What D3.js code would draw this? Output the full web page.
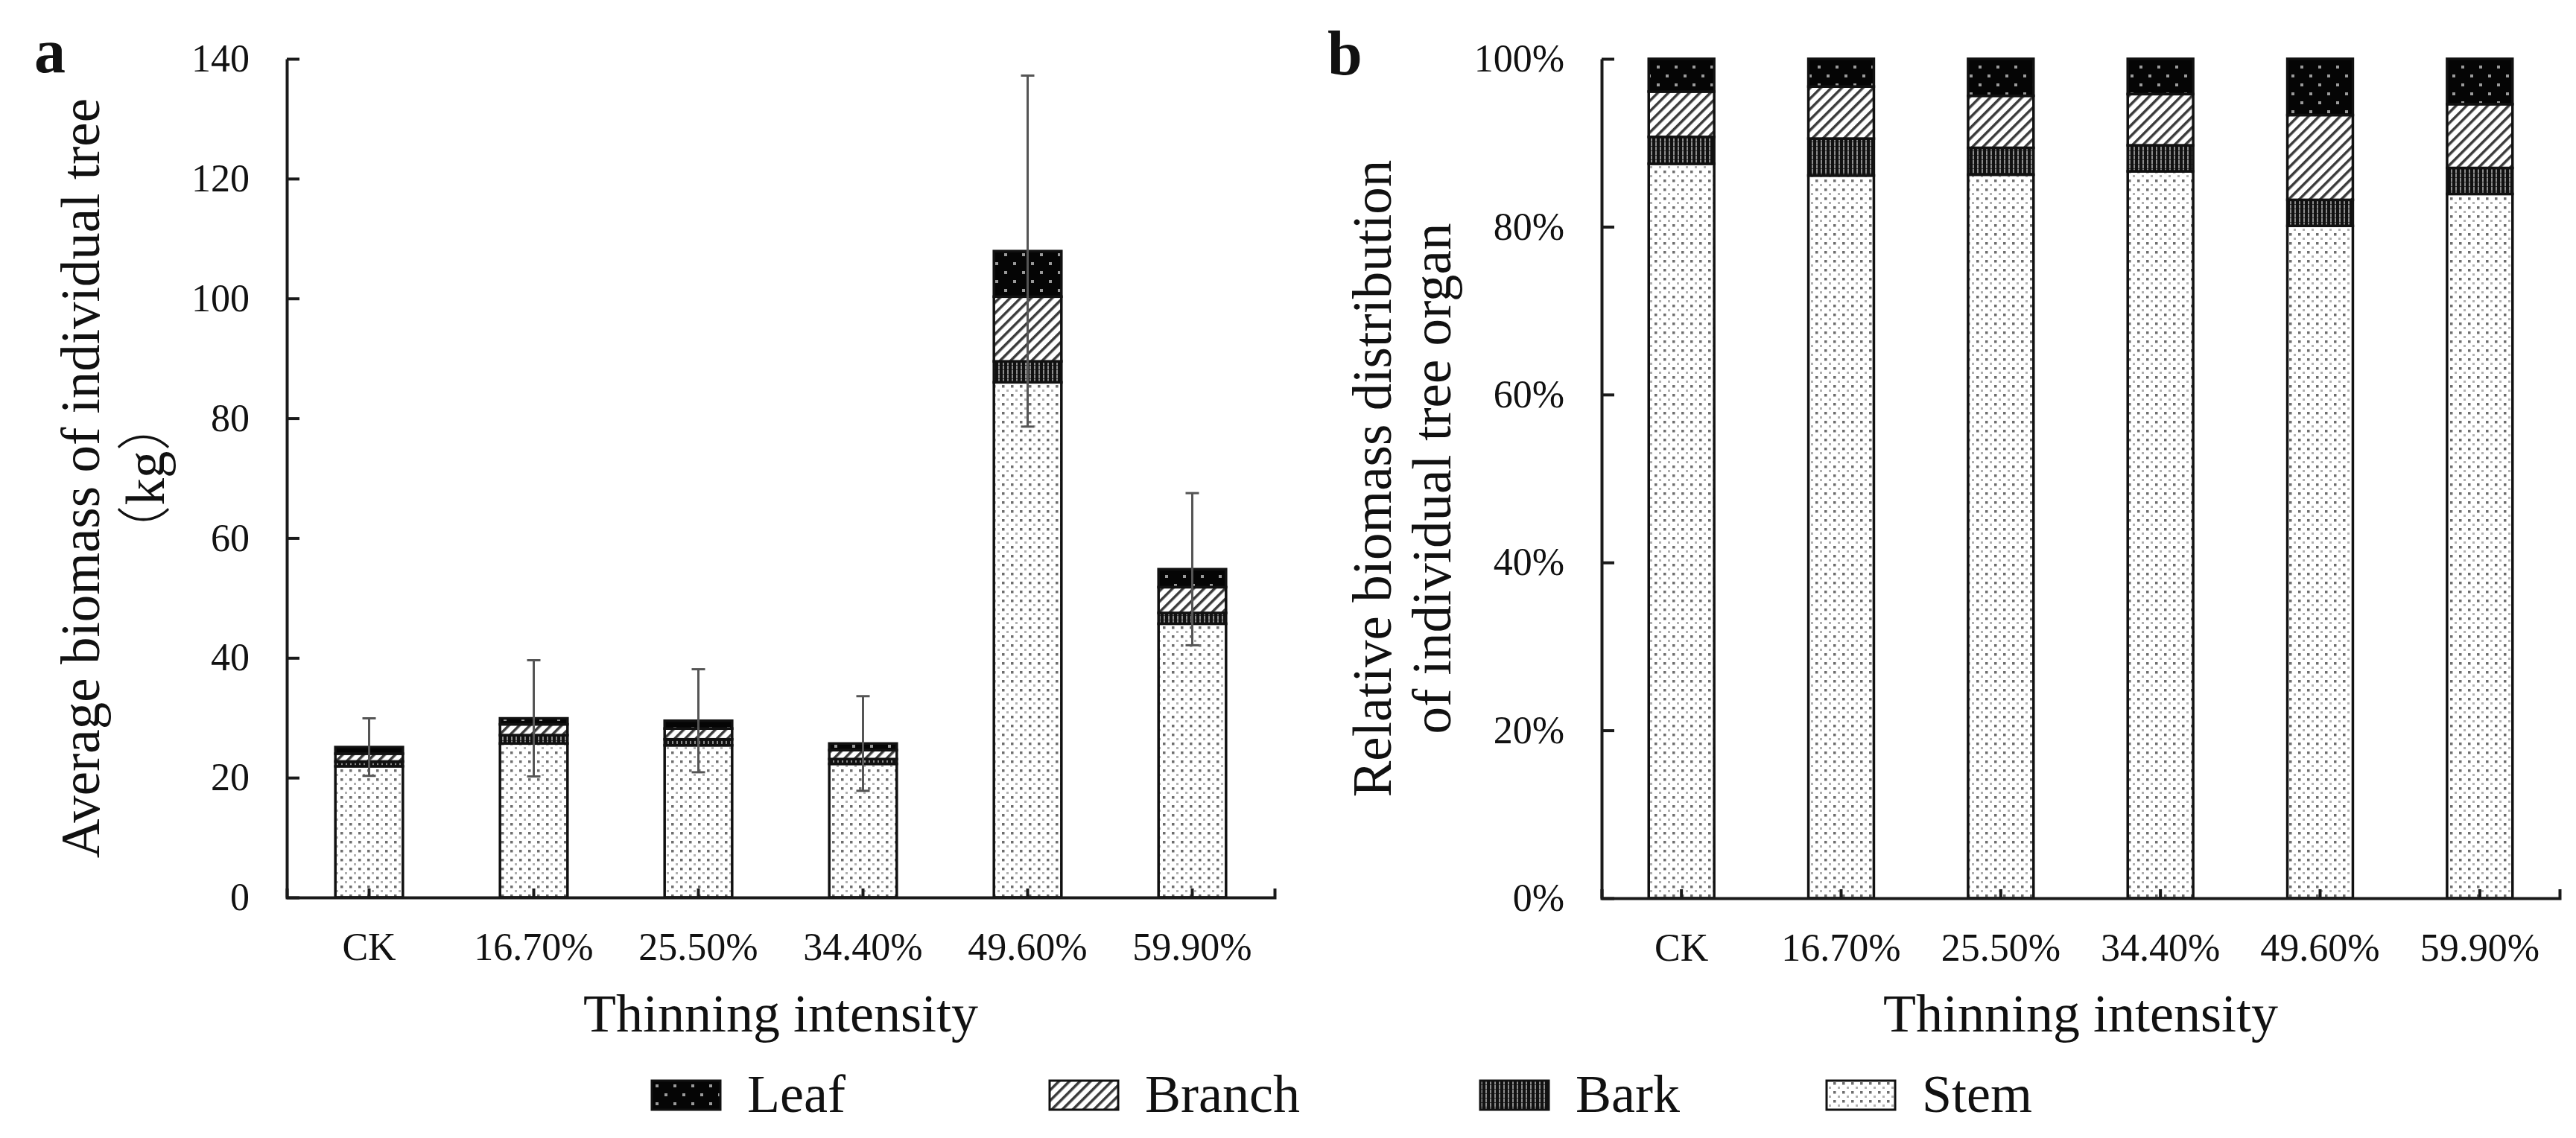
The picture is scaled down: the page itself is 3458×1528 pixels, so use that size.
<!DOCTYPE html>
<html>
<head>
<meta charset="utf-8">
<script src="https://cdn.jsdelivr.net/npm/d3@7"></script>
<style>
  body { margin: 0; background: #fff; }
  text { font-family: "Liberation Serif", "Noto Sans CJK SC", serif; fill: #111; }
</style>
</head>
<body>
<div id="chart"></div>
<script>
const categories = ["CK", "16.70%", "25.50%", "34.40%", "49.60%", "59.90%"];
const organs = ["Leaf", "Branch", "Bark", "Stem"];

// panel a: average biomass per organ (kg)
const stemKg = [21.9, 25.7, 25.4, 22.3, 86.0, 45.7];
const barkKg = [0.8, 1.4, 1.0, 0.8, 3.5, 1.8];
const branchKg = [1.3, 1.8, 1.8, 1.5, 10.8, 4.3];
const leafKg = [1.1, 1.0, 1.3, 1.1, 7.6, 3.0];
const errKg = [4.8, 9.7, 8.6, 7.9, 29.3, 12.7];

// panel b: relative distribution (%)
const stemPct = [87.5, 86.1, 86.2, 86.6, 80.1, 83.9];
const barkPct = [3.2, 4.4, 3.2, 3.1, 3.1, 3.1];
const branchPct = [5.4, 6.2, 6.2, 6.1, 10.1, 7.6];
const leafPct = [3.9, 3.3, 4.4, 4.2, 6.7, 5.4];

const yTicksA = [0, 20, 40, 60, 80, 100, 120, 140];
const yTicksB = [0, 20, 40, 60, 80, 100];

const W = 3458, H = 1528;
const svg = d3.select("#chart").append("svg")
  .attr("width", W).attr("height", H)
  .style("display", "block");

svg.append("rect").attr("width", W).attr("height", H).attr("fill", "#fff");

// fill patterns
const defs = svg.append("defs");

const pStem = defs.append("pattern").attr("id", "p-Stem")
  .attr("patternUnits", "userSpaceOnUse").attr("width", 12).attr("height", 12);
pStem.append("rect").attr("width", 12).attr("height", 12).attr("fill", "#fff");
pStem.append("rect").attr("x", 1).attr("y", 1).attr("width", 3.5).attr("height", 3.5).attr("fill", "#6e6e6e");
pStem.append("rect").attr("x", 7).attr("y", 7).attr("width", 3).attr("height", 3).attr("fill", "#b0b0b0");

const pBark = defs.append("pattern").attr("id", "p-Bark")
  .attr("patternUnits", "userSpaceOnUse").attr("width", 6).attr("height", 6);
pBark.append("rect").attr("width", 6).attr("height", 6).attr("fill", "#111");
pBark.append("rect").attr("x", 2).attr("width", 2).attr("height", 6).attr("fill", "#8c8c8c");
pBark.append("rect").attr("x", 2).attr("y", 4).attr("width", 2).attr("height", 1).attr("fill", "#333");

const pBranch = defs.append("pattern").attr("id", "p-Branch")
  .attr("patternUnits", "userSpaceOnUse").attr("width", 10).attr("height", 10)
  .attr("patternTransform", "rotate(45)");
pBranch.append("rect").attr("width", 10).attr("height", 10).attr("fill", "#fff");
pBranch.append("rect").attr("width", 3.5).attr("height", 10).attr("fill", "#3a3a3a");

const pLeaf = defs.append("pattern").attr("id", "p-Leaf")
  .attr("patternUnits", "userSpaceOnUse").attr("width", 24).attr("height", 24);
pLeaf.append("rect").attr("width", 24).attr("height", 24).attr("fill", "#050505");
pLeaf.append("rect").attr("x", 4).attr("y", 4).attr("width", 4).attr("height", 4).attr("fill", "#9a9a9a");
pLeaf.append("rect").attr("x", 16).attr("y", 16).attr("width", 4).attr("height", 4).attr("fill", "#9a9a9a");

const stackKeys = ["Stem", "Bark", "Branch", "Leaf"];

function drawPanel(opt) {
  const x = d3.scaleBand().domain(categories).range([opt.left, opt.right]).padding(0);
  const y = d3.scaleLinear().domain(opt.domain).range([opt.bottom, opt.top]);
  const g = svg.append("g");

  const rows = categories.map((c, i) => ({
    cat: c, Stem: opt.series.Stem[i], Bark: opt.series.Bark[i],
    Branch: opt.series.Branch[i], Leaf: opt.series.Leaf[i]
  }));
  const stacked = d3.stack().keys(stackKeys)(rows);
  const barW = x.bandwidth() * 0.41;

  g.selectAll("g.layer")
    .data(stacked)
    .join("g")
    .attr("class", "layer")
    .attr("fill", d => `url(#p-${d.key})`)
    .selectAll("rect")
    .data(d => d)
    .join("rect")
    .attr("x", d => x(d.data.cat) + (x.bandwidth() - barW) / 2)
    .attr("y", d => y(d[1]))
    .attr("width", barW)
    .attr("height", d => y(d[0]) - y(d[1]))
    .attr("stroke", "#111")
    .attr("stroke-width", 3.5);

  // axes
  const ax = g.append("g")
    .attr("transform", `translate(${opt.left},0)`)
    .call(d3.axisLeft(y).tickValues(opt.ticks).tickFormat(opt.fmt)
      .tickSizeInner(-17).tickSizeOuter(0).tickPadding(50));
  const bx = g.append("g")
    .attr("transform", `translate(0,${opt.bottom})`)
    .call(d3.axisBottom(x).tickSizeInner(-12).tickSizeOuter(-12).tickPadding(47));

  [ax, bx].forEach(a => {
    a.selectAll("path, line").attr("stroke", "#1a1a1a").attr("stroke-width", 4);
    a.selectAll("text").attr("font-size", 52).attr("fill", "#111")
      .style("font-family", '"Liberation Serif", serif');
  });

  // error bars
  if (opt.err) {
    const eg = g.append("g").attr("stroke", "#555").attr("stroke-width", 3);
    rows.forEach((r, i) => {
      const tot = r.Stem + r.Bark + r.Branch + r.Leaf;
      const cx = x(r.cat) + x.bandwidth() / 2;
      const y1 = y(tot + opt.err[i]), y0 = y(tot - opt.err[i]);
      eg.append("line").attr("x1", cx).attr("x2", cx).attr("y1", y1).attr("y2", y0);
      eg.append("line").attr("x1", cx - 9).attr("x2", cx + 9).attr("y1", y1).attr("y2", y1);
      eg.append("line").attr("x1", cx - 9).attr("x2", cx + 9).attr("y1", y0).attr("y2", y0);
    });
  }

  g.append("text")
    .attr("x", (opt.left + opt.right) / 2).attr("y", 1385)
    .attr("text-anchor", "middle").attr("font-size", 72)
    .text("Thinning intensity");

  opt.yTitle.forEach((t, i) => {
    const tt = g.append("text")
      .attr("transform", `translate(${opt.yTitleX[i]},${(opt.top + opt.bottom) / 2}) rotate(-90)`)
      .attr("text-anchor", "middle").attr("font-size", 73);
    // fullwidth brackets come from the CJK font
    t.split(/([（）])/).filter(s => s).forEach(s => {
      tt.append("tspan")
        .style("font-family", /[（）]/.test(s) ? '"Noto Sans CJK SC"' : '"Liberation Serif", serif')
        .attr("font-weight", /[（）]/.test(s) ? 300 : null)
        .text(s);
    });
  });

  g.append("text")
    .attr("x", opt.tag[0]).attr("y", opt.tag[1])
    .attr("font-size", 84).attr("font-weight", "bold")
    .text(opt.tag[2]);
}

drawPanel({
  left: 385, right: 1711, top: 79, bottom: 1205,
  domain: [0, 140], ticks: yTicksA, fmt: d3.format("d"),
  series: { Stem: stemKg, Bark: barkKg, Branch: branchKg, Leaf: leafKg },
  err: errKg,
  yTitle: ["Average biomass of individual tree", "（kg）"],
  yTitleX: [133, 220],
  tag: [46, 97, "a"]
});

drawPanel({
  left: 2150, right: 3436, top: 79, bottom: 1206,
  domain: [0, 100], ticks: yTicksB, fmt: d => d + "%",
  series: { Stem: stemPct, Bark: barkPct, Branch: branchPct, Leaf: leafPct },
  err: null,
  yTitle: ["Relative biomass distribution", "of individual tree organ"],
  yTitleX: [1867, 1947],
  tag: [1782, 100, "b"]
});

// legend
const legendX = [875, 1409, 1987, 2452];
const leg = svg.append("g");
organs.forEach((o, i) => {
  leg.append("rect")
    .attr("x", legendX[i]).attr("y", 1451)
    .attr("width", 92).attr("height", 39)
    .attr("fill", `url(#p-${o})`)
    .attr("stroke", "#111").attr("stroke-width", 3);
  leg.append("text")
    .attr("x", legendX[i] + 128).attr("y", 1493)
    .attr("font-size", 72)
    .text(o);
});
</script>
</body>
</html>
